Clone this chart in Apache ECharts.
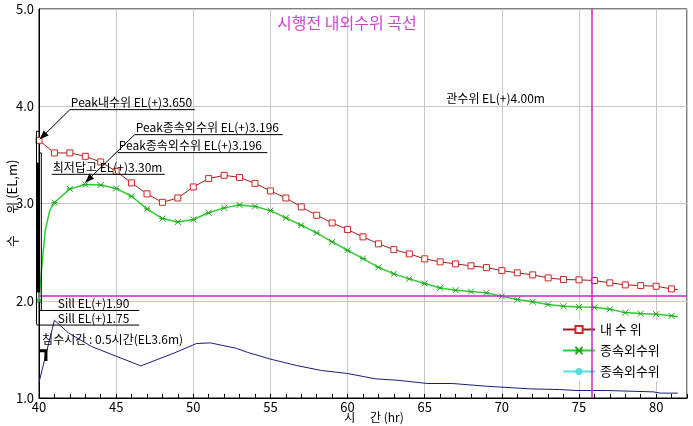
<!DOCTYPE html>
<html><head><meta charset="utf-8">
<script src="https://cdn.jsdelivr.net/npm/echarts@6/dist/echarts.min.js"></script>
<style>html,body{margin:0;padding:0;background:#fff}#c{width:693px;height:426px}</style>
</head><body><div id="c"></div>
<script>
// ---- data ----
const innerHours = [40,41,42,43,44,45,46,47,48,49,50,51,52,53,54,55,56,57,58,59,60,61,62,63,64,65,66,67,68,69,70,71,72,73,74,75,76,77,78,79,80,81,81.4];
const innerLevel = [3.65,3.52,3.52,3.485,3.427,3.331,3.212,3.099,3.012,3.057,3.17,3.256,3.29,3.268,3.207,3.129,3.057,2.965,2.879,2.80,2.732,2.657,2.585,2.526,2.482,2.431,2.40,2.379,2.359,2.341,2.31,2.287,2.266,2.235,2.218,2.215,2.208,2.184,2.163,2.156,2.149,2.122,2.115];
const outerHours = [40,40.2,40.4,40.7,41,42,43,44,45,46,47,48,49,50,51,52,53,54,55,56,57,58,59,60,61,62,63,64,65,66,67,68,69,70,71,72,73,74,75,76,77,78,79,80,81,81.4];
const outerLevel = [2.0,2.38,2.72,2.93,3.01,3.15,3.196,3.19,3.155,3.075,2.945,2.845,2.81,2.835,2.905,2.955,2.985,2.97,2.927,2.852,2.776,2.698,2.605,2.519,2.434,2.344,2.276,2.225,2.177,2.132,2.108,2.094,2.081,2.046,2.012,1.989,1.961,1.943,1.935,1.932,1.912,1.878,1.868,1.862,1.845,1.835];
const riverHours = [40,41,41.9,43.4,46.6,48.8,50.2,51.1,52.8,53.5,55,56.7,58.3,60,61.8,63.2,65.2,66.8,69,71.8,73.75,74.8,76.8,79.8,80.3,81.4];
const riverLevel = [1.16,1.80,1.67,1.53,1.33,1.465,1.56,1.567,1.51,1.47,1.40,1.334,1.283,1.252,1.197,1.183,1.149,1.149,1.121,1.094,1.087,1.077,1.077,1.063,1.05,1.05];
const seriesNames = ['내 수 위','종속외수위','종속외수위 '];
const refHour = 75.8;
const refLevel = 2.05;
// annotations (data coordinates)
const underlineNotes = [
  {text:'Peak내수위 EL(+)3.650', x1:42.0, x2:50.1, y:3.965, arrowTo:[40.05,3.66]},
  {text:'Peak종속외수위 EL(+)3.196', x1:46.2, x2:55.8, y:3.708, arrowTo:[43.0,3.215]},
  {text:'Peak종속외수위 EL(+)3.196', x1:45.1, x2:54.8, y:3.523},
  {text:'최저답고 EL(+)3.30m', x1:40.83, x2:48.15, y:3.30},
  {text:'Sill EL(+)1.90', x1:40.0, x2:46.5, y:1.90, tx:41.15},
  {text:'Sill EL(+)1.75', x1:39.85, x2:46.5, y:1.75, tx:41.15}
];
const freeNotes = [
  {text:'관수위 EL(+)4.00m', x:66.4, y:4.02},
  {text:'침수시간 : 0.5시간(EL3.6m)', x:40.2, y:1.545}
];

const FONT = "'Noto Sans CJK KR', 'Noto Sans', sans-serif";
const chart = echarts.init(document.getElementById('c'));
const mk = (xs, ys) => xs.map((h,i) => Number.isInteger(h) ? [h, ys[i]] : {value:[h, ys[i]], symbol:'none'});

chart.setOption({
  animation:false,
  backgroundColor:'#fff',
  title:{text:'시행전 내외수위 곡선', left:272, top:10,
    textStyle:{fontFamily:FONT, fontSize:16, fontWeight:'normal', color:'#cc44cc'}},
  grid:{left:39, right:6, top:9, bottom:28, show:true, borderColor:'#000', borderWidth:1,
    containLabel:false, outerBoundsMode:'none'},
  legend:{data:seriesNames, orient:'vertical', left:558, top:320, itemWidth:32, itemHeight:9, itemGap:8,
    backgroundColor:'#fff', padding:[3,6,3,4],
    textStyle:{fontFamily:FONT, fontSize:13, color:'#000'}},
  xAxis:{type:'value', min:40, max:82, interval:5,
    name:'시\u3000 간 (hr)', nameLocation:'middle', nameGap:13, nameMoveOverlap:false,
    nameTextStyle:{fontFamily:FONT, fontSize:12, color:'#000', padding:[0,0,0,22]},
    axisLine:{lineStyle:{color:'#000'}},
    axisTick:{inside:true, length:4, lineStyle:{color:'#000'}},
    minorTick:{show:true, splitNumber:5, length:4, lineStyle:{color:'#000'}},
    axisLabel:{fontFamily:FONT, fontSize:13, color:'#000', margin:3, showMaxLabel:false},
    splitLine:{show:true, lineStyle:{color:'#c8c8c8'}}},
  yAxis:{type:'value', min:1, max:5, interval:1,
    name:'수\u3000   위 (EL,m)', nameLocation:'middle', nameGap:20, nameMoveOverlap:false,
    nameTextStyle:{fontFamily:FONT, fontSize:13, color:'#000'},
    axisLine:{show:true, lineStyle:{color:'#000'}},
    axisTick:{show:false},
    axisLabel:{fontFamily:FONT, fontSize:13, color:'#000', margin:5, formatter:v=>v.toFixed(1)},
    splitLine:{show:true, lineStyle:{color:'#c8c8c8'}}},
  series:[
    {type:'line', name:'하천수위', data:mk(riverHours, riverLevel), showSymbol:false, symbol:'none',
      lineStyle:{color:'#1c1c78', width:1}, itemStyle:{color:'#1c1c78'}, z:2,
      markLine:{silent:true, symbol:['none','none'], label:{show:false},
        lineStyle:{color:'#cc22cc', type:'solid', width:1.5},
        data:[{xAxis:refHour},{yAxis:refLevel}]}},
    {type:'line', name:seriesNames[2], data:[], symbol:'circle', symbolSize:5,
      lineStyle:{color:'#55dddd', width:2}, itemStyle:{color:'#55dddd'}},
    {type:'line', name:seriesNames[1], data:mk(outerHours, outerLevel),
      symbol:'path://M0,0L10,10M0,10L10,0M0,5L10,5', symbolSize:6,
      lineStyle:{color:'#33cc33', width:1.5}, itemStyle:{color:'#33cc33', borderColor:'#22aa22', borderWidth:1}, z:3},
    {type:'line', name:seriesNames[0], data:mk(innerHours, innerLevel),
      symbol:'rect', symbolSize:6,
      lineStyle:{color:'#9a2020', width:1}, itemStyle:{color:'#fff', borderColor:'#d02525', borderWidth:1}, z:4}
  ]
});

// ---- annotations placed through the axis scales ----
const P = (x,y) => chart.convertToPixel({gridIndex:0}, [x,y]);
const els = [];
const font = '12px ' + FONT;
function arrowHead(from, to){
  const dx = to[0]-from[0], dy = to[1]-from[1], L = Math.hypot(dx,dy), ux = dx/L, uy = dy/L;
  const len = 9, w = 3.5;
  const bx = to[0]-ux*len, by = to[1]-uy*len;
  return {type:'polygon', shape:{points:[to,[bx-uy*w, by+ux*w],[bx+uy*w, by-ux*w]]}, style:{fill:'#000'}, z:10};
}
underlineNotes.forEach(n => {
  const a = P(n.x1, n.y), b = P(n.x2, n.y);
  els.push({type:'line', shape:{x1:a[0], y1:a[1], x2:b[0], y2:b[1]}, style:{stroke:'#000', lineWidth:1}, z:10});
  const t = P(n.tx !== undefined ? n.tx : n.x1, n.y);
  els.push({type:'text', x:t[0]+1, y:t[1]-1, style:{text:n.text, font:font, fill:'#000',
    textAlign:'left', align:'left', textVerticalAlign:'bottom', verticalAlign:'bottom'}, z:10});
  if (n.arrowTo){
    const e = P(n.arrowTo[0], n.arrowTo[1]);
    els.push({type:'line', shape:{x1:a[0], y1:a[1], x2:e[0], y2:e[1]}, style:{stroke:'#000', lineWidth:1}, z:10});
    els.push(arrowHead(a, e));
  }
});
freeNotes.forEach(n => {
  const t = P(n.x, n.y);
  els.push({type:'text', x:t[0], y:t[1], style:{text:n.text, font:font, fill:'#000',
    textAlign:'left', align:'left', textVerticalAlign:'bottom', verticalAlign:'bottom'}, z:10});
});
// bracket marks at the left edge
const br = [
  {pts:[[40.05,3.743],[39.84,3.743],[39.84,1.755]], w:1},
  {pts:[[39.98,3.52],[40.15,3.52],[40.15,1.90]], w:1},
  {pts:[[39.95,3.42],[39.95,2.085]], w:3.5},
  {pts:[[40.05,1.485],[40.45,1.485],[40.45,1.38]], w:3}
];
br.forEach(b => {
  els.push({type:'polyline', shape:{points:b.pts.map(p=>P(p[0],p[1]))}, style:{stroke:'#000', lineWidth:b.w, fill:null}, z:10});
});
chart.setOption({graphic:els});
</script>
</body></html>
